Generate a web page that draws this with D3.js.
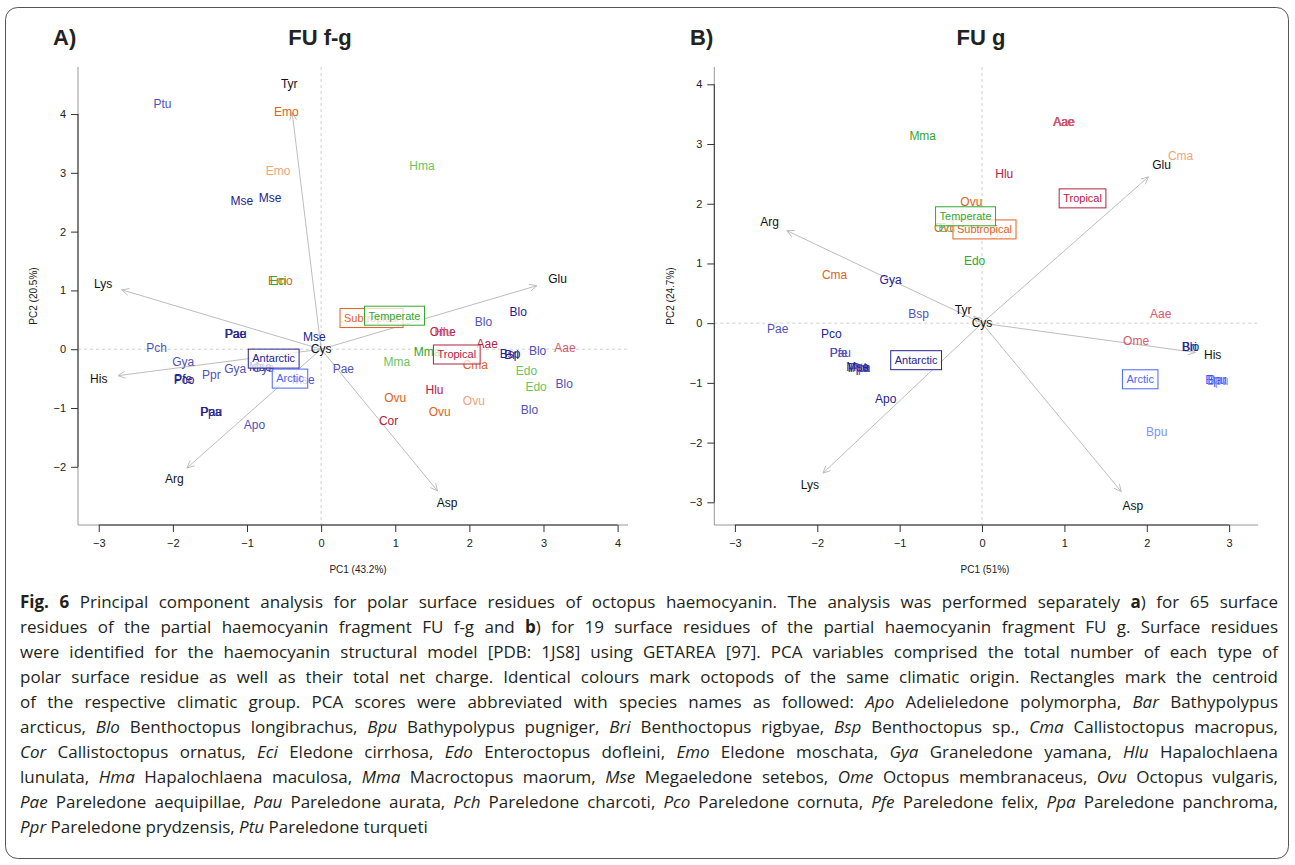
<!DOCTYPE html>
<html><head><meta charset="utf-8">
<script src="https://cdn.jsdelivr.net/npm/d3@7"></script>
<style>
body{margin:0;background:#fff;}
#wrap{position:relative;width:1295px;height:865px;overflow:hidden;background:#fff;}
svg{position:absolute;left:0;top:0;}
#cap{position:absolute;left:20px;top:589px;width:1258px;font-family:"Open Sans","Noto Sans",sans-serif;font-size:17px;color:#231f20;}
.ln{white-space:nowrap;height:25px;line-height:25px;}
.ln span.in{display:inline-block;}
</style></head>
<body><div id="wrap"><div id="cap"></div></div>
<script>
// ---------------- DATA ----------------
// Panel A (FU f-g)
const aLabels = ["Ptu","Emo","Emo","Mse","Mse","Emo","Eci","Hma","Pae","Pau","Mse","Pch","Gya","Pfe","Pco","Ppr","Gya","Mse","Gya","Mse","Apo","Ppa","Pau","Pae","Blo","Blo","Ome","Hlu","Aae","Mma","Cma","Bsp","Bri","Blo","Aae","Mma","Edo","Edo","Blo","Hlu","Ovu","Ovu","Ovu","Blo","Cor"];
const aPC1 = [-2.14,-0.47,-0.58,-1.07,-0.69,-0.55,-0.58,1.36,-1.16,-1.15,-0.09,-2.22,-1.86,-1.86,-1.85,-1.48,-1.16,-0.82,-0.78,-0.24,-0.90,-1.49,-1.48,0.30,2.66,2.19,1.64,1.65,2.24,1.43,2.08,2.55,2.57,2.92,3.29,1.02,2.77,2.90,3.28,1.53,1.00,2.06,1.60,2.81,0.91];
const aPC2 = [4.18,4.04,3.03,2.52,2.58,1.17,1.17,3.12,0.26,0.26,0.21,0.03,-0.22,-0.51,-0.52,-0.44,-0.33,-0.30,-0.31,-0.52,-1.29,-1.07,-1.07,-0.34,0.64,0.46,0.30,0.30,0.085,-0.04,-0.27,-0.07,-0.09,-0.02,0.03,-0.21,-0.37,-0.64,-0.58,-0.69,-0.83,-0.87,-1.06,-1.03,-1.22];
const aShade = ["antM","subD","subL","antD","antD","subD","temD","temL","antD","antD","antD","antM","antM","antD","antD","antM","antM","antD","antM","antM","antM","antD","antD","antM","antD","antM","troD","troL","troD","temD","subD","antD","antD","antM","troL","temL","temL","temL","antM","troD","subD","subL","subD","antM","troD"];
const aVars = ["Tyr","Lys","His","Arg","Asp","Glu","Cys"];
const aVarTipX = [-0.39,-2.69,-2.74,-1.81,1.57,2.91,0.0];
const aVarTipY = [4.02,1.01,-0.45,-2.02,-2.41,1.08,0.0];
const aVarLabX = [-0.43,-2.94,-3.0,-1.98,1.70,3.19,0.0];
const aVarLabY = [4.51,1.11,-0.51,-2.21,-2.62,1.19,0.0];
const aGroups = ["Antarctic","Arctic","Subtropical","Temperate","Tropical"];
const aGroupX = [-0.64,-0.42,0.68,0.99,1.83];
const aGroupY = [-0.16,-0.50,0.53,0.57,-0.09];
const aXTicks = [-3,-2,-1,0,1,2,3,4];
const aYTicks = [-2,-1,0,1,2,3,4];

// Panel B (FU g)
const bLabels = ["Mma","Ovu","Ovu","Eci","Ovu","Edo","Cma","Gya","Aae","Aae","Cma","Hlu","Bsp","Pae","Pco","Pfe","Pau","Ppa","Ppr","Pch","Ptu","Mse","Apo","Aae","Ome","Bri","Blo","Bpu","Bar","Bpu","Bpu"];
const bPC1 = [-0.72,-0.13,-0.45,-0.43,0.22,-0.09,-1.79,-1.11,0.99,1.00,2.41,0.27,-0.77,-2.48,-1.83,-1.74,-1.72,-1.50,-1.49,-1.48,-1.47,-1.51,-1.17,2.17,1.87,2.52,2.53,2.84,2.85,2.86,2.12];
const bPC2 = [3.14,2.04,1.59,1.60,1.48,1.04,0.81,0.73,3.37,3.37,2.81,2.50,0.16,-0.10,-0.18,-0.50,-0.50,-0.74,-0.74,-0.75,-0.74,-0.73,-1.27,0.16,-0.29,-0.40,-0.40,-0.95,-0.95,-0.96,-1.82];
const bShade = ["temD","subD","subD","temL","subL","temD","subD","antD","troD","troL","subL","troD","antM","antM","antD","antM","antM","antD","antM","antM","antM","antD","antD","troL","troL","antD","antD","arcD","arcD","arcL","arcL"];
const bVars = ["Arg","Glu","Tyr","Cys","His","Lys","Asp"];
const bVarTipX = [-2.37,2.02,-0.10,0.0,2.59,-1.93,1.69];
const bVarTipY = [1.55,2.45,0.11,0.0,-0.49,-2.51,-2.82];
const bVarLabX = [-2.58,2.18,-0.23,0.0,2.80,-2.09,1.83];
const bVarLabY = [1.69,2.65,0.22,0.01,-0.53,-2.71,-3.06];
const bGroups = ["Antarctic","Arctic","Subtropical","Temperate","Tropical"];
const bGroupX = [-0.80,1.92,0.03,-0.20,1.22];
const bGroupY = [-0.62,-0.94,1.57,1.79,2.09];
const bXTicks = [-3,-2,-1,0,1,2,3];
const bYTicks = [-3,-2,-1,0,1,2,3,4];

const shadeColors = {antD:"#23238f",antM:"#5151b8",arcD:"#3a58f0",arcL:"#7b93ff",temD:"#35a62e",temL:"#6cc35c",subD:"#e0621e",subL:"#f0a577",troD:"#b5203f",troL:"#d4566f"};
const groupColors = {Antarctic:"#23238f",Arctic:"#4a66ff",Subtropical:"#e0621e",Temperate:"#35a62e",Tropical:"#b5203f"};

// ---------------- DRAW ----------------
const W=1295,H=865;
const svg=d3.select("#wrap").insert("svg","#cap").attr("width",W).attr("height",H);
svg.append("rect").attr("x",5.5).attr("y",7.5).attr("width",1283).attr("height",851).attr("rx",12)
  .attr("fill","none").attr("stroke","#555").attr("stroke-width",1);

const FONT='"Liberation Sans",Arial,sans-serif';

function panel(o){
  const x=d3.scaleLinear().domain(o.xDom).range(o.xRange);
  const y=d3.scaleLinear().domain(o.yDom).range([525,67]);
  const g=svg.append("g").attr("font-family",FONT);
  // reference dashed lines
  g.append("line").attr("x1",x(0)).attr("x2",x(0)).attr("y1",67).attr("y2",525)
    .attr("stroke","#cfcfcf").attr("stroke-dasharray","3,3");
  g.append("line").attr("x1",o.xRange[0]).attr("x2",o.xRange[1]).attr("y1",y(0)).attr("y2",y(0))
    .attr("stroke","#cfcfcf").attr("stroke-dasharray","3,3");
  // L box
  g.append("path").attr("d",`M${o.xRange[0]},67V525H${o.xRange[1]}`).attr("fill","none").attr("stroke","#999");
  // axes
  const xa=d3.axisBottom(x).tickValues(o.xTicks).tickSize(7).tickPadding(7).tickFormat(d3.format("d"));
  const gx=g.append("g").attr("transform","translate(0,525)").call(xa);
  gx.select(".domain").remove();
  gx.append("line").attr("x1",x(o.xTicks[0])).attr("x2",x(o.xTicks[o.xTicks.length-1])).attr("stroke","#333");
  const ya=d3.axisLeft(y).tickValues(o.yTicks).tickSize(7).tickPadding(5).tickFormat(d3.format("d"));
  const gy=g.append("g").attr("transform",`translate(${o.xRange[0]},0)`).call(ya);
  gy.select(".domain").remove();
  gy.append("line").attr("y1",y(o.yTicks[0])).attr("y2",y(o.yTicks[o.yTicks.length-1])).attr("stroke","#333");
  [gx,gy].forEach(a=>{a.selectAll(".tick line").attr("stroke","#333");
    a.selectAll(".tick text").attr("font-size",11).attr("font-family",FONT).attr("fill","#222");});
  // axis titles
  g.append("text").attr("x",o.xTitleX).attr("y",573).attr("text-anchor","middle").attr("font-size",10).attr("fill","#222").text(o.xTitle);
  g.append("text").attr("transform",`translate(${o.yTitleX},296) rotate(-90)`).attr("text-anchor","middle").attr("font-size",10).attr("fill","#222").text(o.yTitle);
  // panel titles
  g.append("text").attr("x",o.tagX).attr("y",45).attr("font-size",22).attr("font-weight","bold").attr("fill","#222").text(o.tag);
  g.append("text").attr("x",o.titleX).attr("y",45).attr("text-anchor","middle").attr("font-size",22).attr("font-weight","bold").attr("fill","#222").text(o.title);
  // arrows
  o.vars.forEach((v,i)=>{
    const x1=x(0),y1=y(0),x2=x(o.tipX[i]),y2=y(o.tipY[i]);
    const len=Math.hypot(x2-x1,y2-y1);
    if(len>4){
      g.append("line").attr("x1",x1).attr("y1",y1).attr("x2",x2).attr("y2",y2).attr("stroke","#bdbdbd");
      const ang=Math.atan2(y2-y1,x2-x1), h=8, a=Math.PI/7;
      g.append("path").attr("d",`M${x2-h*Math.cos(ang-a)},${y2-h*Math.sin(ang-a)}L${x2},${y2}L${x2-h*Math.cos(ang+a)},${y2-h*Math.sin(ang+a)}`)
        .attr("fill","none").attr("stroke","#bdbdbd");
    }
  });
  // points
  o.labels.forEach((t,i)=>{
    g.append("text").attr("x",x(o.pc1[i])).attr("y",y(o.pc2[i])).attr("text-anchor","middle").attr("dy","0.35em")
      .attr("font-size",12).attr("fill",shadeColors[o.shade[i]]).text(t);
  });
  // variable labels
  o.vars.forEach((v,i)=>{
    g.append("text").attr("x",x(o.labX[i])).attr("y",y(o.labY[i])).attr("text-anchor","middle").attr("dy","0.35em")
      .attr("font-size",12).attr("fill","#111").text(v);
  });
  // centroid boxes
  o.groups.forEach((t,i)=>{
    const gg=g.append("g");
    const r=gg.append("rect");
    const tx=gg.append("text").attr("x",x(o.gx[i])).attr("y",y(o.gy[i])).attr("text-anchor","middle").attr("dy","0.35em")
      .attr("font-size",11).attr("fill",groupColors[t]).text(t);
    const w=tx.node().getComputedTextLength()+8;
    r.attr("x",x(o.gx[i])-w/2).attr("y",y(o.gy[i])-9.5).attr("width",w).attr("height",19)
      .attr("fill","rgba(255,255,255,0.72)").attr("stroke",groupColors[t]).attr("stroke-width",1);
  });
}

panel({xDom:[-3.28,4.14],xRange:[78,628],yDom:[-2.99,4.80],xTicks:aXTicks,yTicks:aYTicks,
  xTitle:"PC1 (43.2%)",xTitleX:358,yTitle:"PC2 (20.5%)",yTitleX:37,tag:"A)",tagX:53,title:"FU f-g",titleX:320,
  labels:aLabels,pc1:aPC1,pc2:aPC2,shade:aShade,vars:aVars,tipX:aVarTipX,tipY:aVarTipY,labX:aVarLabX,labY:aVarLabY,
  groups:aGroups,gx:aGroupX,gy:aGroupY});
panel({xDom:[-3.25,3.35],xRange:[714.3,1258],yDom:[-3.38,4.29],xTicks:bXTicks,yTicks:bYTicks,
  xTitle:"PC1 (51%)",xTitleX:985,yTitle:"PC2 (24.7%)",yTitleX:674,tag:"B)",tagX:690,title:"FU g",titleX:981,
  labels:bLabels,pc1:bPC1,pc2:bPC2,shade:bShade,vars:bVars,tipX:bVarTipX,tipY:bVarTipY,labX:bVarLabX,labY:bVarLabY,
  groups:bGroups,gx:bGroupX,gy:bGroupY});

// ---------------- CAPTION ----------------
const capLines=[
 [["b","Fig. 6"],["n"," Principal component analysis for polar surface residues of octopus haemocyanin. The analysis was performed separately "],["b","a"],["n",") for 65 surface"]],
 [["n","residues of the partial haemocyanin fragment FU f-g and "],["b","b"],["n",") for 19 surface residues of the partial haemocyanin fragment FU g. Surface residues"]],
 [["n","were identified for the haemocyanin structural model [PDB: 1JS8] using GETAREA [97]. PCA variables comprised the total number of each type of"]],
 [["n","polar surface residue as well as their total net charge. Identical colours mark octopods of the same climatic origin. Rectangles mark the centroid"]],
 [["n","of the respective climatic group. PCA scores were abbreviated with species names as followed: "],["i","Apo"],["n"," Adelieledone polymorpha, "],["i","Bar"],["n"," Bathypolypus"]],
 [["n","arcticus, "],["i","Blo"],["n"," Benthoctopus longibrachus, "],["i","Bpu"],["n"," Bathypolypus pugniger, "],["i","Bri"],["n"," Benthoctopus rigbyae, "],["i","Bsp"],["n"," Benthoctopus sp., "],["i","Cma"],["n"," Callistoctopus macropus,"]],
 [["i","Cor"],["n"," Callistoctopus ornatus, "],["i","Eci"],["n"," Eledone cirrhosa, "],["i","Edo"],["n"," Enteroctopus dofleini, "],["i","Emo"],["n"," Eledone moschata, "],["i","Gya"],["n"," Graneledone yamana, "],["i","Hlu"],["n"," Hapalochlaena"]],
 [["n","lunulata, "],["i","Hma"],["n"," Hapalochlaena maculosa, "],["i","Mma"],["n"," Macroctopus maorum, "],["i","Mse"],["n"," Megaeledone setebos, "],["i","Ome"],["n"," Octopus membranaceus, "],["i","Ovu"],["n"," Octopus vulgaris,"]],
 [["i","Pae"],["n"," Pareledone aequipillae, "],["i","Pau"],["n"," Pareledone aurata, "],["i","Pch"],["n"," Pareledone charcoti, "],["i","Pco"],["n"," Pareledone cornuta, "],["i","Pfe"],["n"," Pareledone felix, "],["i","Ppa"],["n"," Pareledone panchroma,"]],
 [["i","Ppr"],["n"," Pareledone prydzensis, "],["i","Ptu"],["n"," Pareledone turqueti"]]
];
const cap=d3.select("#cap");
capLines.forEach((ln,li)=>{
  const d=cap.append("div").attr("class","ln");
  const inner=d.append("span").attr("class","in");
  ln.forEach(([s,t])=>{
    const sp=inner.append("span").text(t);
    if(s==="b") sp.style("font-weight","bold");
    if(s==="i") sp.style("font-style","italic");
  });
  if(li<capLines.length-1){
    const w=inner.node().getBoundingClientRect().width;
    const nSp=ln.map(p=>p[1]).join("").split(" ").length-1;
    inner.style("word-spacing",((1258-w)/nSp)+"px");
  }
});
</script>
</body></html>
